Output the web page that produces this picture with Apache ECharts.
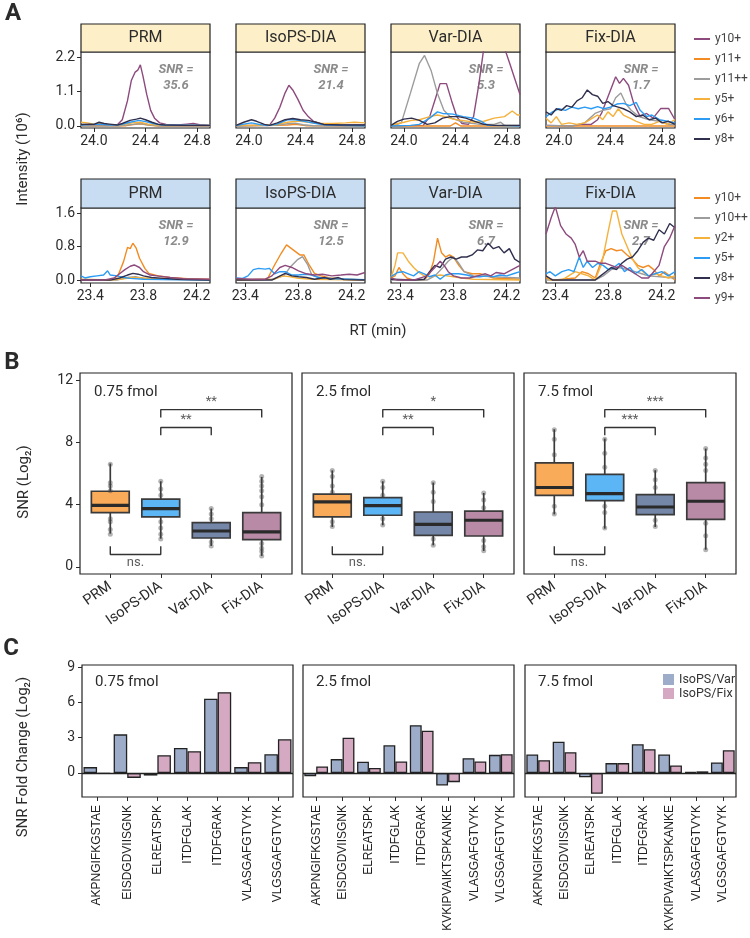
<!DOCTYPE html>
<html>
<head>
<meta charset="utf-8">
<script src="https://cdn.jsdelivr.net/npm/echarts@6/dist/echarts.min.js"></script>
<style>
  html, body { margin: 0; padding: 0; background: #fff; }
  #chart { width: 750px; height: 938px; }
</style>
</head>
<body>
<div id="chart"></div>
<script>
// ---------- panel A: extracted ion chromatograms [RT (min), intensity (10^6)] ----------
const methods = ['PRM', 'IsoPS-DIA', 'Var-DIA', 'Fix-DIA'];
const ionsTop = ['y10+', 'y11+', 'y11++', 'y5+', 'y6+', 'y8+'];
const ionsBottom = ['y10+', 'y10++', 'y2+', 'y5+', 'y8+', 'y9+'];
const snrTop = ['35.6', '21.4', '5.3', '1.7'];
const snrBottom = ['12.9', '12.5', '6.7', '2.7'];
const rtTicksTop = [24.0, 24.4, 24.8];
const rtTicksBottom = [23.4, 23.8, 24.2];
const intTicksTop = [0, 1.1, 2.2];
const intTicksBottom = [0, 0.8, 1.6];

// each panel: traces in the order of ionsTop / ionsBottom
const xicTopPRM = [
  [[23.9,0.02],[24.0,0.03],[24.1,0.02],[24.18,0.03],[24.22,0.2],[24.26,0.8],[24.29,1.45],[24.32,1.72],[24.34,1.78],[24.36,1.95],[24.38,1.6],[24.41,1.0],[24.44,0.5],[24.47,0.25],[24.51,0.1],[24.56,0.05],[24.65,0.03],[24.72,0.06],[24.77,0.08],[24.82,0.04],[24.9,0.02]],
  [[23.9,0],[24.25,0.01],[24.32,0.05],[24.36,0.07],[24.42,0.03],[24.5,0],[24.9,0]],
  [[23.9,0],[24.2,0.01],[24.3,0.05],[24.36,0.08],[24.42,0.04],[24.5,0.01],[24.9,0]],
  [[23.9,0.12],[23.95,0.1],[24.0,0.06],[24.05,0.08],[24.1,0.05],[24.2,0.03],[24.3,0.1],[24.36,0.12],[24.42,0.06],[24.5,0.02],[24.9,0.02]],
  [[23.9,0.03],[24.0,0.05],[24.05,0.06],[24.12,0.03],[24.2,0.04],[24.28,0.12],[24.35,0.18],[24.4,0.14],[24.46,0.08],[24.52,0.03],[24.9,0.02]],
  [[23.9,0.05],[23.96,0.06],[24.0,0.05],[24.04,0.12],[24.08,0.08],[24.12,0.06],[24.18,0.03],[24.22,0.08],[24.28,0.18],[24.33,0.22],[24.36,0.25],[24.4,0.2],[24.45,0.12],[24.5,0.05],[24.55,0.03],[24.7,0.02],[24.9,0.02]]
];
const xicTopIso = [
  [[23.9,0.02],[24.1,0.02],[24.16,0.03],[24.2,0.25],[24.24,0.6],[24.28,1.05],[24.31,1.3],[24.34,1.15],[24.38,0.85],[24.42,0.5],[24.46,0.3],[24.5,0.15],[24.55,0.08],[24.6,0.06],[24.7,0.04],[24.9,0.03]],
  [[23.9,0],[24.3,0.03],[24.36,0.05],[24.44,0.01],[24.9,0]],
  [[23.9,0],[24.2,0.02],[24.3,0.07],[24.36,0.09],[24.42,0.04],[24.5,0.01],[24.9,0]],
  [[23.9,0.03],[24.0,0.02],[24.2,0.04],[24.3,0.12],[24.38,0.16],[24.46,0.12],[24.55,0.08],[24.65,0.08],[24.75,0.1],[24.82,0.12],[24.9,0.1]],
  [[23.9,0.01],[23.96,0.06],[24.02,0.1],[24.08,0.05],[24.14,0.01],[24.22,0.06],[24.3,0.2],[24.36,0.2],[24.44,0.14],[24.52,0.08],[24.6,0.03],[24.9,0.01]],
  [[23.9,0.02],[23.96,0.12],[24.02,0.2],[24.06,0.15],[24.12,0.05],[24.16,0.02],[24.22,0.1],[24.28,0.2],[24.34,0.24],[24.4,0.2],[24.46,0.18],[24.52,0.12],[24.58,0.05],[24.7,0.03],[24.9,0.03]]
];
const xicTopVar = [
  [[23.9,0],[24.15,0.02],[24.2,0.3],[24.25,0.95],[24.28,1.35],[24.33,1.35],[24.37,0.8],[24.41,0.3],[24.45,0.08],[24.5,0.05],[24.54,0.3],[24.58,1.3],[24.62,2.5],[24.7,3.0],[24.77,2.6],[24.82,2.0],[24.86,1.5],[24.9,1.0]],
  [[23.9,0],[24.36,0],[24.4,0.1],[24.44,0],[24.9,0]],
  [[23.9,0],[23.95,0.05],[23.98,0.1],[24.05,1.04],[24.12,2.0],[24.16,2.25],[24.21,1.78],[24.26,1.04],[24.31,0.5],[24.37,0.25],[24.46,0.12],[24.59,0.05],[24.7,0.05],[24.75,0.12],[24.78,0.02],[24.9,0.02]],
  [[23.9,0.03],[24.0,0.12],[24.06,0.18],[24.12,0.2],[24.2,0.3],[24.26,0.35],[24.32,0.3],[24.38,0.22],[24.45,0.18],[24.55,0.12],[24.62,0.15],[24.7,0.25],[24.78,0.3],[24.84,0.48],[24.88,0.35],[24.9,0.35]],
  [[23.9,0],[24.05,0.02],[24.12,0.05],[24.2,0.25],[24.26,0.45],[24.3,0.4],[24.38,0.38],[24.46,0.3],[24.54,0.25],[24.6,0.15],[24.65,0.02],[24.9,0]],
  [[23.9,0.02],[23.95,0.15],[24.0,0.22],[24.06,0.25],[24.12,0.18],[24.18,0.05],[24.24,0.1],[24.3,0.25],[24.36,0.3],[24.42,0.3],[24.48,0.25],[24.55,0.15],[24.62,0.05],[24.7,0.02],[24.9,0.02]]
];
const xicTopFix = [
  [[23.9,0.02],[24.1,0],[24.18,0.05],[24.25,0.05],[24.3,0.2],[24.33,0.4],[24.39,1.04],[24.44,1.57],[24.47,1.36],[24.5,1.52],[24.54,1.3],[24.58,0.72],[24.63,0.3],[24.68,0.4],[24.73,0.25],[24.79,0.56],[24.85,0.56],[24.9,0.2]],
  [[23.9,0],[24.9,0]],
  [[23.9,0.02],[24.1,0],[24.2,0.1],[24.28,0.4],[24.34,0.5],[24.4,0.55],[24.44,0.9],[24.48,1.05],[24.52,0.7],[24.56,0.5],[24.62,0.3],[24.7,0.2],[24.78,0.15],[24.85,0.05],[24.9,0.05]],
  [[23.9,0.25],[23.94,0.1],[23.98,0.3],[24.02,0.05],[24.08,0.1],[24.14,0.05],[24.2,0.1],[24.26,0.25],[24.3,0.35],[24.34,0.2],[24.38,0.45],[24.42,0.3],[24.46,0.55],[24.5,0.35],[24.55,0.25],[24.6,0.15],[24.66,0.05],[24.72,0.05],[24.78,0.15],[24.84,0.05],[24.9,0.2]],
  [[23.9,0.3],[23.95,0.45],[24.0,0.55],[24.05,0.5],[24.1,0.6],[24.15,0.55],[24.2,0.6],[24.25,0.55],[24.3,0.62],[24.35,0.55],[24.4,0.6],[24.45,0.7],[24.5,0.72],[24.55,0.65],[24.6,0.75],[24.63,0.5],[24.68,0.3],[24.72,0.35],[24.78,0.2],[24.84,0.15],[24.9,0.1]],
  [[23.9,0.45],[23.94,0.35],[23.98,0.55],[24.02,0.5],[24.06,0.65],[24.1,0.6],[24.14,0.8],[24.18,0.9],[24.22,1.15],[24.26,1.0],[24.3,0.95],[24.34,0.72],[24.38,0.78],[24.42,0.65],[24.46,0.6],[24.5,0.55],[24.55,0.45],[24.6,0.3],[24.65,0.35],[24.7,0.2],[24.75,0.25],[24.8,0.1],[24.85,0.15],[24.9,0.05]]
];
const xicBotPRM = [
  [[23.33,0],[23.55,0],[23.58,0.04],[23.61,0.12],[23.65,0.44],[23.68,0.78],[23.7,0.75],[23.72,0.88],[23.745,0.76],[23.77,0.52],[23.81,0.28],[23.84,0.16],[23.91,0.1],[24.0,0.06],[24.13,0.03],[24.3,0.02]],
  [[23.33,0],[23.6,0],[23.68,0.06],[23.74,0.08],[23.8,0.04],[23.9,0.02],[24.3,0]],
  [[23.33,0.02],[23.55,0],[23.65,0.03],[23.72,0.06],[23.8,0.05],[23.9,0.03],[24.0,0.05],[24.1,0.02],[24.3,0]],
  [[23.33,0.1],[23.36,0.05],[23.4,0.08],[23.45,0.1],[23.5,0.12],[23.53,0.22],[23.55,0.12],[23.6,0.1],[23.65,0.06],[23.7,0.04],[23.8,0.02],[24.3,0]],
  [[23.33,0],[23.55,0],[23.62,0.05],[23.68,0.12],[23.72,0.16],[23.76,0.14],[23.8,0.1],[23.86,0.06],[23.95,0.04],[24.05,0.02],[24.3,0]],
  [[23.33,0],[23.5,0],[23.58,0.05],[23.62,0.15],[23.66,0.25],[23.7,0.33],[23.73,0.36],[23.77,0.3],[23.8,0.2],[23.85,0.12],[23.9,0.1],[24.0,0.06],[24.1,0.03],[24.3,0.02]]
];
const xicBotIso = [
  [[23.33,0],[23.55,0.02],[23.57,0.05],[23.62,0.36],[23.67,0.64],[23.71,0.84],[23.76,0.72],[23.81,0.6],[23.84,0.6],[23.88,0.36],[23.92,0.16],[23.97,0.1],[24.04,0.05],[24.14,0.02],[24.3,0]],
  [[23.33,0],[23.6,0.02],[23.69,0.1],[23.74,0.32],[23.79,0.48],[23.83,0.56],[23.87,0.36],[23.9,0.12],[23.97,0.05],[24.3,0]],
  [[23.33,0],[23.62,0.02],[23.68,0.1],[23.74,0.08],[23.8,0.04],[23.9,0.02],[24.3,0]],
  [[23.33,0.05],[23.38,0.04],[23.42,0.1],[23.46,0.25],[23.5,0.28],[23.55,0.26],[23.58,0.28],[23.62,0.15],[23.66,0.2],[23.7,0.2],[23.75,0.12],[23.8,0.12],[23.85,0.14],[23.9,0.12],[23.95,0.06],[24.05,0.03],[24.3,0.01]],
  [[23.33,0],[23.6,0],[23.65,0.08],[23.7,0.16],[23.75,0.1],[23.8,0.08],[23.86,0.06],[23.92,0.02],[24.0,0.06],[24.04,0.02],[24.1,0.06],[24.14,0.01],[24.3,0]],
  [[23.33,0.04],[23.45,0.02],[23.55,0.02],[23.6,0.1],[23.66,0.3],[23.7,0.35],[23.75,0.3],[23.8,0.22],[23.86,0.15],[23.92,0.12],[23.98,0.14],[24.05,0.1],[24.12,0.12],[24.18,0.14],[24.24,0.12],[24.3,0.18]]
];
const xicBotVar = [
  [[23.33,0.05],[23.36,0.1],[23.39,0.3],[23.42,0.15],[23.45,0.05],[23.5,0],[23.58,0],[23.62,0.15],[23.65,0.45],[23.68,1.0],[23.71,0.65],[23.74,0.55],[23.77,0.6],[23.8,0.55],[23.84,0.35],[23.88,0.2],[23.94,0.15],[24.0,0.15],[24.05,0.1],[24.1,0.05],[24.3,0.02]],
  [[23.33,0],[23.6,0],[23.66,0.1],[23.72,0.3],[23.76,0.45],[23.8,0.55],[23.84,0.4],[23.88,0.2],[23.95,0.1],[24.3,0.05]],
  [[23.33,0.05],[23.36,0.35],[23.38,0.65],[23.42,0.65],[23.46,0.45],[23.5,0.3],[23.54,0.18],[23.58,0.1],[23.62,0.08],[23.66,0.1],[23.7,0.12],[23.75,0.1],[23.8,0.08],[23.86,0.05],[23.95,0.02],[24.3,0]],
  [[23.33,0.08],[23.38,0.18],[23.42,0.2],[23.46,0.15],[23.5,0.1],[23.54,0.2],[23.58,0.15],[23.62,0.08],[23.66,0.12],[23.7,0.02],[23.74,0.12],[23.78,0.15],[23.84,0.15],[23.9,0.12],[23.95,0.08],[24.0,0.08],[24.05,0.1],[24.1,0.08],[24.15,0.12],[24.2,0.1],[24.25,0.15],[24.3,0.2]],
  [[23.33,0.02],[23.5,0],[23.58,0.02],[23.62,0.2],[23.66,0.35],[23.7,0.3],[23.74,0.5],[23.78,0.55],[23.82,0.5],[23.86,0.55],[23.9,0.55],[23.94,0.6],[23.98,0.72],[24.02,0.7],[24.06,0.88],[24.1,0.75],[24.14,0.8],[24.18,0.65],[24.22,0.75],[24.26,0.5],[24.3,0.42]],
  [[23.33,0.05],[23.38,0],[23.5,0],[23.6,0.1],[23.66,0.3],[23.7,0.45],[23.73,0.35],[23.76,0.2],[23.8,0.1],[23.86,0.05],[23.92,0.05],[23.98,0.1],[24.04,0.15],[24.08,0.1],[24.12,0.18],[24.18,0.15],[24.24,0.25],[24.3,0.35]]
];
const xicBotFix = [
  [[23.33,0.05],[23.4,0],[23.55,0.05],[23.6,0.2],[23.65,0.15],[23.7,0.05],[23.74,0.4],[23.78,0.7],[23.82,0.75],[23.86,0.7],[23.9,0.72],[23.94,0.6],[23.98,0.5],[24.02,0.35],[24.06,0.3],[24.1,0.35],[24.14,0.25],[24.18,0.1],[24.22,0.2],[24.26,0.1],[24.3,0]],
  [[23.33,0],[23.7,0],[23.76,0.1],[23.82,0.25],[23.88,0.3],[23.94,0.25],[24.0,0.2],[24.05,0.15],[24.1,0.1],[24.3,0.05]],
  [[23.33,0.1],[23.36,0],[23.45,0],[23.5,0.1],[23.55,0.2],[23.6,0.15],[23.65,0.1],[23.7,0],[23.75,0.4],[23.8,1.2],[23.83,1.65],[23.86,1.65],[23.9,1.1],[23.94,0.8],[23.98,0.5],[24.02,0.3],[24.06,0.2],[24.1,0.1],[24.16,0.15],[24.2,0.1],[24.25,0.05],[24.3,0.1]],
  [[23.33,0.15],[23.36,0.2],[23.4,0.1],[23.45,0.2],[23.5,0.25],[23.54,0.2],[23.58,0.55],[23.61,0.3],[23.64,0.45],[23.68,0.3],[23.72,0.4],[23.76,0.35],[23.8,0.25],[23.84,0.3],[23.88,0.4],[23.92,0.2],[23.96,0.3],[24.0,0.15],[24.05,0.25],[24.1,0.1],[24.15,0.15],[24.2,0.2],[24.25,0.1],[24.3,0.2]],
  [[23.33,0.1],[23.38,0],[23.7,0],[23.74,0.1],[23.78,0.2],[23.82,0.3],[23.86,0.25],[23.9,0.4],[23.94,0.5],[23.98,0.55],[24.02,0.7],[24.06,0.9],[24.1,1.0],[24.14,0.95],[24.18,1.2],[24.22,1.1],[24.26,1.35],[24.3,1.25]],
  [[23.33,1.1],[23.37,1.5],[23.4,1.75],[23.44,1.3],[23.48,1.1],[23.52,1.0],[23.55,0.85],[23.58,0.55],[23.61,0.7],[23.64,0.45],[23.7,0.45],[23.74,0.4],[23.78,0.4],[23.82,0.35],[23.86,0.3],[23.9,0.35],[23.95,0.25],[24.0,0.15],[24.05,0.05],[24.1,0.05],[24.14,0.2],[24.18,0.35],[24.22,0.8],[24.26,1.0],[24.3,1.3]]
];

// ---------- panel B: SNR (log2) boxes [min, Q1, median, Q3, max] per method ----------
const doses = ['0.75 fmol', '2.5 fmol', '7.5 fmol'];
const snrTicks = [0, 4, 8, 12];
const snrBox075 = [[2.14,3.49,3.96,4.86,6.64],[1.82,3.21,3.75,4.35,5.5],[1.35,1.86,2.31,2.85,3.75],[0.71,1.76,2.25,3.49,5.78]];
const snrBox25 = [[2.57,3.21,4.18,4.67,6.2],[2.68,3.32,3.94,4.45,5.5],[1.39,2.03,2.74,3.53,5.42],[1.03,1.99,3.0,3.58,4.75]];
const snrBox75 = [[3.38,4.6,5.1,6.68,8.84],[2.46,4.26,4.71,5.95,8.24],[2.57,3.36,3.85,4.65,6.21],[1.11,3.06,4.22,5.42,7.6]];
const snrDots075 = [[6.6,5.4,5.2,4.9,3.1,2.9,2.4,2.1],[5.5,5.0,4.6,2.9,2.5,2.1,1.8],[3.75,3.4,3.1,1.6,1.35],[5.8,5.5,5.2,4.9,4.5,4.0,1.5,1.2,1.0,0.7]];
const snrDots25 = [[6.2,5.8,5.2,4.8,2.9,2.6],[5.5,5.1,4.6,3.1,2.7],[5.4,4.8,4.2,1.8,1.4],[4.75,4.3,3.8,1.7,1.3,1.05]];
const snrDots75 = [[8.8,8.2,7.2,3.9,3.4],[8.2,7.3,6.4,3.9,3.5,2.5],[6.2,5.6,5.1,3.0,2.6],[7.6,7.0,6.6,6.2,2.8,2.0,1.1]];
// PRM vs IsoPS, IsoPS vs Var, IsoPS vs Fix
const sig075 = ['ns.', '**', '**'];
const sig25 = ['ns.', '**', '*'];
const sig75 = ['ns.', '***', '***'];

// ---------- panel C: SNR fold change (log2) ----------
const foldTicks = [0, 3, 6, 9];
const peptides075 = ['AKPNGIFKGSTAE','EISDGDVIISGNK','ELREATSPK','ITDFGLAK','ITDFGRAK','VLASGAFGTVYK','VLGSGAFGTVYK'];
const peptides25 = ['AKPNGIFKGSTAE','EISDGDVIISGNK','ELREATSPK','ITDFGLAK','ITDFGRAK','KVKIPVAIKTSPKANKE','VLASGAFGTVYK','VLGSGAFGTVYK'];
const peptides75 = ['AKPNGIFKGSTAE','EISDGDVIISGNK','ELREATSPK','ITDFGLAK','ITDFGRAK','KVKIPVAIKTSPKANKE','VLASGAFGTVYK','VLGSGAFGTVYK'];
const isoVar075 = [0.5, 3.28, -0.22, 2.13, 6.3, 0.5, 1.6];
const isoFix075 = [-0.08, -0.42, 1.51, 1.85, 6.86, 0.92, 2.86];
const isoVar25 = [-0.28, 1.18, 0.95, 2.35, 4.06, -1.06, 1.26, 1.54];
const isoFix25 = [0.56, 3.0, 0.42, 0.98, 3.59, -0.78, 0.98, 1.6];
const isoVar75 = [1.57, 2.66, -0.36, 0.84, 2.44, 1.57, 0.08, 0.9];
const isoFix75 = [1.09, 1.76, -1.76, 0.84, 2.02, 0.64, 0.14, 1.93];

// ---------- styling ----------
const FONT = 'Roboto, "Noto Sans", sans-serif';
const ink = '#2b2b2b';
const colorsTop = ['#8d4a7d', '#f28b22', '#9c9c9c', '#f4b13c', '#2b9bf4', '#30304e'];
const colorsBottom = ['#f28b22', '#9c9c9c', '#f4b13c', '#2b9bf4', '#30304e', '#8d4a7d'];
const boxColors = ['#f9ab5a', '#5cb6f6', '#7587a9', '#b88aa6'];
const barColors = ['#9dadc9', '#d5a9c1'];

const grid = [], xAxis = [], yAxis = [], series = [], graphic = [];

function addPanel(box, xa, ya) {
  const gi = grid.length;
  grid.push({ left: box[0], top: box[1], width: box[2], height: box[3], show: true,
    borderColor: '#222', borderWidth: 1.2, outerBoundsMode: 'none' });
  xAxis.push(Object.assign({ gridIndex: gi }, xa));
  yAxis.push(Object.assign({ gridIndex: gi }, ya));
  return gi;
}

function valueAxis(min, max, ticks, show, label) {
  return {
    type: 'value', min: min, max: max,
    axisLine: { show: false, onZero: false }, splitLine: { show: false },
    axisTick: { show: show, length: 4, lineStyle: { color: ink, width: 1 }, customValues: ticks },
    axisLabel: Object.assign({ show: show, customValues: ticks, fontSize: 14, color: ink, fontFamily: FONT, margin: 6 }, label)
  };
}

function text(x, y, str, font, extra, align) {
  return Object.assign({ type: 'text', x: x, y: y, silent: true,
    style: { text: str, font: font, fill: ink, align: align || 'center', verticalAlign: 'middle' } }, extra);
}

// ---------- panel A ----------
const leftsA = [81, 236, 391, 546];
const rowsA = [
  { strip: 24, top: 52, h: 76, fill: '#fdf0c8', xmin: 23.9, xmax: 24.9, xt: rtTicksTop, ymin: -0.064, ymax: 2.36, yt: intTicksTop,
    traces: [xicTopPRM, xicTopIso, xicTopVar, xicTopFix], ions: ionsTop, colors: colorsTop, snr: snrTop, snrY: 70 },
  { strip: 179, top: 208, h: 75, fill: '#c8ddf2', xmin: 23.33, xmax: 24.3, xt: rtTicksBottom, ymin: -0.07, ymax: 1.72, yt: intTicksBottom,
    traces: [xicBotPRM, xicBotIso, xicBotVar, xicBotFix], ions: ionsBottom, colors: colorsBottom, snr: snrBottom, snrY: 226 }
];
rowsA.forEach(row => {
  leftsA.forEach((left, p) => {
    const gi = addPanel([left, row.top, 129, row.h],
      valueAxis(row.xmin, row.xmax, row.xt, true, { formatter: v => v.toFixed(1) }),
      valueAxis(row.ymin, row.ymax, row.yt, p === 0, { formatter: v => v.toFixed(1) }));
    graphic.push({ type: 'rect', silent: true, shape: { x: left, y: row.strip, width: 129, height: row.top - row.strip },
      style: { fill: row.fill, stroke: '#222', lineWidth: 1.2 } });
    graphic.push(text(left + 64.5, (row.strip + row.top) / 2, methods[p], '16px ' + FONT));
    const snrA = text(left + 95, row.snrY, 'SNR =', 'italic bold 13px ' + FONT, { z: -1 });
    const snrB = text(left + 95, row.snrY + 16, row.snr[p], 'italic bold 13px ' + FONT, { z: -1 });
    snrA.style.fill = snrB.style.fill = '#8c8c8c';
    graphic.push(snrA, snrB);
    row.traces[p].forEach((trace, k) => {
      series.push({ type: 'line', name: row.ions[k], xAxisIndex: gi, yAxisIndex: gi, data: trace,
        symbol: 'none', showSymbol: false, clip: true, silent: true,
        lineStyle: { color: row.colors[k], width: 1.4 }, itemStyle: { color: row.colors[k] } });
    });
  });
});

// ---------- panel B ----------
const leftsB = [80, 302, 524];
const boxesB = [snrBox075, snrBox25, snrBox75];
const dotsB = [snrDots075, snrDots25, snrDots75];
const sigsB = [sig075, sig25, sig75];
const brackets = [
  { a: 0, b: 1, y: 0.8, end: 1.33, pos: 'bottom' },
  { a: 1, b: 2, y: 8.95, end: 8.45, pos: 'top' },
  { a: 1, b: 3, y: 10.1, end: 9.6, pos: 'top' }
];
leftsB.forEach((left, p) => {
  const gi = addPanel([left, 373, 212, 201],
    valueAxis(-0.6, 3.6, [0, 1, 2, 3], true, { formatter: v => methods[Math.round(v)], rotate: 35, fontSize: 14.5, margin: 11 }),
    valueAxis(-0.45, 12.45, snrTicks, p === 0, { margin: 7 }));
  series.push({
    type: 'custom', xAxisIndex: gi, yAxisIndex: gi, silent: true,
    data: boxesB[p].map((b, i) => [i].concat(b)),
    encode: { x: 0, y: [1, 2, 3, 4, 5] },
    renderItem: (params, api) => {
      const i = api.value(0);
      const pt = k => api.coord([i, api.value(k)]);
      const lo = pt(1), q1 = pt(2), md = pt(3), q3 = pt(4), hi = pt(5);
      const hw = api.size([0.75, 0])[0] / 2;
      const st = { stroke: '#3a3a3a', lineWidth: 1.7 };
      return { type: 'group', children: [
        { type: 'line', shape: { x1: lo[0], y1: lo[1], x2: q1[0], y2: q1[1] }, style: st },
        { type: 'line', shape: { x1: q3[0], y1: q3[1], x2: hi[0], y2: hi[1] }, style: st },
        { type: 'rect', shape: { x: q3[0] - hw, y: q3[1], width: hw * 2, height: q1[1] - q3[1] },
          style: { fill: boxColors[i], stroke: '#3a3a3a', lineWidth: 1.7 } },
        { type: 'line', shape: { x1: md[0] - hw, y1: md[1], x2: md[0] + hw, y2: md[1] }, style: { stroke: '#2a2a2a', lineWidth: 3.2 } }
      ] };
    }
  });
  series.push({ type: 'scatter', xAxisIndex: gi, yAxisIndex: gi, silent: true, symbolSize: 5,
    itemStyle: { color: '#444', opacity: 0.4 },
    data: dotsB[p].flatMap((vals, i) => vals.map(v => [i, v])) });
  const labels = [];
  brackets.forEach((k, j) => {
    series.push({ type: 'line', xAxisIndex: gi, yAxisIndex: gi, silent: true, symbol: 'none',
      lineStyle: { color: '#333', width: 1.4 },
      data: [[k.a, k.end], [k.a, k.y], [k.b, k.y], [k.b, k.end]] });
    labels.push({ value: [(k.a + k.b) / 2, k.y], label: { position: k.pos, formatter: sigsB[p][j] } });
  });
  series.push({ type: 'scatter', xAxisIndex: gi, yAxisIndex: gi, silent: true, symbolSize: 1,
    itemStyle: { color: 'rgba(0,0,0,0)' },
    label: { show: true, color: '#333', fontSize: 13, fontFamily: FONT, distance: 1 }, data: labels });
  graphic.push(text(left + 14, 392, doses[p], '15px ' + FONT, {}, 'left'));
});

// ---------- panel C ----------
const leftsC = [82, 303, 525];
const peptidesC = [peptides075, peptides25, peptides75];
const varC = [isoVar075, isoVar25, isoVar75];
const fixC = [isoFix075, isoFix25, isoFix75];
leftsC.forEach((left, p) => {
  const gi = addPanel([left, 665, 211, 132],
    { type: 'category', data: peptidesC[p], axisLine: { show: false, onZero: false }, splitLine: { show: false },
      axisTick: { show: true, alignWithLabel: true, length: 4, lineStyle: { color: ink } },
      axisLabel: { rotate: 90, interval: 0, fontSize: 12, fontFamily: '"Liberation Sans", Arial, sans-serif', color: '#222', margin: 8 } },
    valueAxis(-2.04, 9.17, foldTicks, p === 0, { margin: 7 }));
  series.push({ type: 'bar', name: 'IsoPS/Var', xAxisIndex: gi, yAxisIndex: gi, silent: true, data: varC[p],
    barGap: '0%', barCategoryGap: '10%',
    itemStyle: { color: barColors[0], borderColor: '#222', borderWidth: 1.3 } });
  series.push({ type: 'bar', name: 'IsoPS/Fix', xAxisIndex: gi, yAxisIndex: gi, silent: true, data: fixC[p],
    barGap: '0%', barCategoryGap: '10%',
    itemStyle: { color: barColors[1], borderColor: '#222', borderWidth: 1.3 },
    markLine: { silent: true, symbol: ['none', 'none'], label: { show: false },
      lineStyle: { color: '#222', width: 1.4, type: 'solid' }, data: [{ yAxis: 0 }] } });
  graphic.push(text(left + 13, 682, doses[p], '15px ' + FONT, {}, 'left'));
});

// ---------- titles ----------
const letterFont = 'bold 24px ' + FONT;
graphic.push(text(13, 14, 'A', letterFont), text(12, 363, 'B', letterFont), text(11, 649, 'C', letterFont));
graphic.push(text(23, 159, 'Intensity (10⁶)', '15px ' + FONT, { rotation: Math.PI / 2 }));
graphic.push(text(378, 331, 'RT (min)', '15px ' + FONT));
graphic.push(text(24, 482, 'SNR (Log₂)', '15px ' + FONT, { rotation: Math.PI / 2 }));
graphic.push(text(23, 757, 'SNR Fold Change (Log₂)', '15px ' + FONT, { rotation: Math.PI / 2 }));

const legendA = (top, ions, colors) => ({
  left: 689, top: top, orient: 'vertical', icon: 'rect', itemWidth: 16, itemHeight: 2, itemGap: 6,
  selectedMode: false,
  textStyle: { fontSize: 12, color: '#444', fontFamily: FONT, lineHeight: 14 },
  data: ions.map((n, i) => ({ name: n, itemStyle: { color: colors[i] } }))
});

const chart = echarts.init(document.getElementById('chart'));
chart.setOption({
  animation: false,
  backgroundColor: '#fff',
  textStyle: { fontFamily: FONT },
  grid: grid, xAxis: xAxis, yAxis: yAxis, series: series,
  legend: [
    legendA(27, ionsTop, colorsTop),
    legendA(186, ionsBottom, colorsBottom),
    { left: 658, top: 668, orient: 'vertical', icon: 'rect', itemWidth: 11, itemHeight: 11, itemGap: 1,
      selectedMode: false, itemStyle: { borderWidth: 0 },
      textStyle: { fontSize: 12.5, color: '#333', fontFamily: FONT, lineHeight: 12 },
      data: ['IsoPS/Var', 'IsoPS/Fix'] }
  ],
  graphic: graphic
});
</script>
</body>
</html>
